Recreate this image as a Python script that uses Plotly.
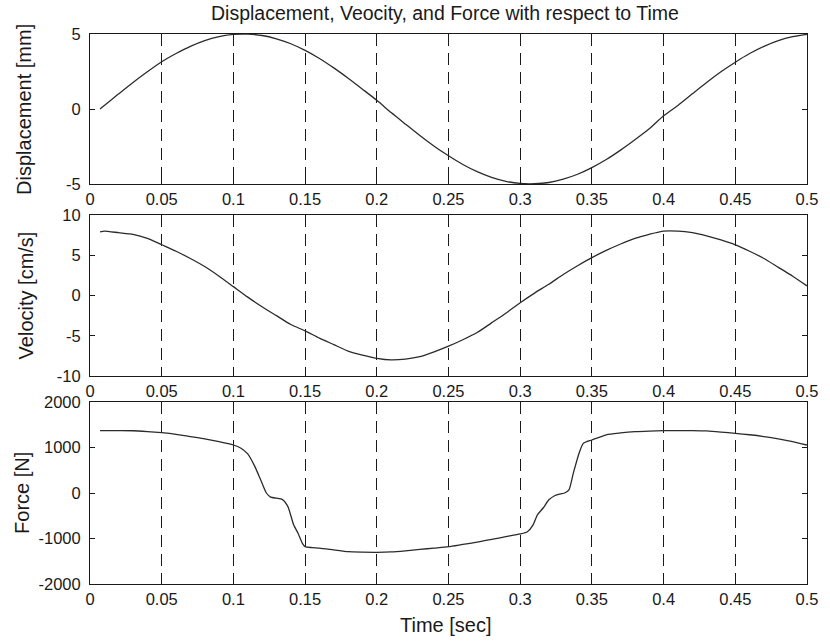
import plotly.graph_objects as go
from plotly.subplots import make_subplots

# Time samples (s) and measured signals
t_disp = [0.007, 0.01, 0.02, 0.03, 0.04, 0.05, 0.06, 0.07, 0.08, 0.09, 0.10,
          0.11, 0.12, 0.13, 0.14, 0.15, 0.16, 0.17, 0.18, 0.19, 0.20,
          0.21, 0.22, 0.23, 0.24, 0.25, 0.26, 0.27, 0.28, 0.29, 0.30,
          0.31, 0.32, 0.33, 0.34, 0.35, 0.36, 0.37, 0.38, 0.39, 0.40,
          0.41, 0.42, 0.43, 0.44, 0.45, 0.46, 0.47, 0.48, 0.49, 0.50]
displacement_mm = [0.0, 0.24, 1.01, 1.77, 2.48, 3.15, 3.70, 4.18, 4.56, 4.82, 4.97,
                   4.99, 4.90, 4.68, 4.35, 3.91, 3.37, 2.74, 2.05, 1.32, 0.58,
                   -0.24, -1.01, -1.77, -2.48, -3.12, -3.70, -4.18, -4.56, -4.82, -4.96,
                   -4.98, -4.90, -4.68, -4.35, -3.91, -3.37, -2.74, -2.05, -1.32, -0.45,
                   0.24, 1.01, 1.77, 2.48, 3.12, 3.70, 4.18, 4.56, 4.82, 4.98]

t_vel = t_disp
velocity_cms = [7.9, 8.0, 7.8, 7.6, 7.1, 6.3, 5.5, 4.6, 3.6, 2.4, 1.1,
                -0.2, -1.4, -2.5, -3.6, -4.4, -5.3, -6.1, -6.9, -7.4, -7.8,
                -8.0, -7.9, -7.6, -7.0, -6.3, -5.5, -4.6, -3.4, -2.2, -0.9,
                0.3, 1.4, 2.6, 3.7, 4.7, 5.6, 6.4, 7.1, 7.6, 8.0,
                8.0, 7.8, 7.4, 6.9, 6.3, 5.5, 4.6, 3.5, 2.4, 1.2]

t_force = [0.007, 0.02, 0.03, 0.04, 0.05, 0.06, 0.07, 0.08, 0.09, 0.10,
           0.105, 0.11, 0.115, 0.119, 0.123, 0.126, 0.13, 0.134, 0.138, 0.142,
           0.145, 0.148, 0.15, 0.155, 0.16, 0.17, 0.18, 0.19, 0.20, 0.21,
           0.22, 0.23, 0.24, 0.25, 0.26, 0.27, 0.28, 0.29, 0.30, 0.305,
           0.309, 0.312, 0.316, 0.32, 0.324, 0.328, 0.331, 0.334, 0.337, 0.341,
           0.344, 0.35, 0.36, 0.37, 0.38, 0.39, 0.40, 0.41, 0.42, 0.43,
           0.44, 0.45, 0.46, 0.47, 0.48, 0.49, 0.50]
force_n = [1370, 1370, 1368, 1350, 1325, 1290, 1240, 1190, 1130, 1055,
           990, 860, 580, 290, 0, -90, -115, -140, -300, -700,
           -880, -1100, -1180, -1200, -1210, -1250, -1290, -1300, -1303, -1295,
           -1270, -1240, -1210, -1180, -1130, -1080, -1020, -960, -900, -850,
           -700, -480, -330, -150, -60, -20, 0, 70, 430, 870,
           1090, 1165, 1280, 1320, 1348, 1362, 1369, 1372, 1372, 1365,
           1340, 1311, 1280, 1240, 1190, 1130, 1055]

time_ticks = [0, 0.05, 0.1, 0.15, 0.2, 0.25, 0.3, 0.35, 0.4, 0.45, 0.5]
time_tick_text = ["0", "0.05", "0.1", "0.15", "0.2", "0.25", "0.3", "0.35", "0.4", "0.45", "0.5"]
disp_ticks = [-5, 0, 5]
vel_ticks = [-10, -5, 0, 5, 10]
force_ticks = [-2000, -1000, 0, 1000, 2000]

title_text = "Displacement, Veocity, and Force with respect to Time"
y_titles = ["Displacement [mm]", "Velocity [cm/s]", "Force [N]"]
x_title = "Time [sec]"

FONT = "Liberation Sans, Arial, sans-serif"
INK = "#1a1a1a"
W, H = 830, 641
L, R, T, B = 90, 13, 34, 57
plot_h = H - T - B

def frac(px_top, px_bottom):
    return [(H - B - px_bottom) / plot_h, (H - B - px_top) / plot_h]

fig = make_subplots(rows=3, cols=1)

series = [(t_disp, displacement_mm), (t_vel, velocity_cms), (t_force, force_n)]
for i, (xs, ys) in enumerate(series, start=1):
    fig.add_trace(go.Scatter(x=xs, y=ys, mode="lines",
                             line=dict(color="#2b2b2b", width=1.3, shape="spline", smoothing=0.6),
                             showlegend=False, hoverinfo="skip"), row=i, col=1)

domains = [frac(34, 184), frac(215, 376), frac(402, 584)]
yranges = [[-5, 5], [-10, 10], [-2000, 2000]]
yticks = [disp_ticks, vel_ticks, force_ticks]

axis_common = dict(showline=True, linecolor=INK, linewidth=1, mirror="ticks",
                   ticks="inside", ticklen=5, tickcolor=INK, tickwidth=1,
                   zeroline=False, tickfont=dict(family=FONT, size=16.5, color=INK))

for i in range(3):
    xa = "xaxis" if i == 0 else f"xaxis{i+1}"
    ya = "yaxis" if i == 0 else f"yaxis{i+1}"
    fig.layout[xa].update(range=[0, 0.5], tickvals=time_ticks, ticktext=time_tick_text,
                          showgrid=True, gridcolor=INK, gridwidth=1, griddash="12px,7px",
                          domain=[0, 1], **axis_common)
    # plain hyphen for negative labels
    fig.layout[ya].update(range=yranges[i], tickvals=yticks[i],
                          ticktext=[str(v) for v in yticks[i]], showgrid=False,
                          domain=domains[i], ticklabelstandoff=5, **axis_common)

annotations = [dict(text=title_text, x=(450 - L) / (W - L - R), y=1 + (T - 13) / plot_h,
                    xref="paper", yref="paper", showarrow=False,
                    font=dict(family=FONT, size=19.5, color=INK), xanchor="center", yanchor="middle")]
label_x = [23, 25, 21]
for i, txt in enumerate(y_titles):
    d = domains[i]
    annotations.append(dict(text=txt, x=(label_x[i] - L) / (W - L - R), y=(d[0] + d[1]) / 2,
                            xref="paper", yref="paper", showarrow=False, textangle=-90,
                            font=dict(family=FONT, size=20, color=INK),
                            xanchor="center", yanchor="middle"))
annotations.append(dict(text=x_title, x=(451 - L) / (W - L - R), y=-(625 - (H - B)) / plot_h,
                        xref="paper", yref="paper", showarrow=False,
                        font=dict(family=FONT, size=20, color=INK),
                        xanchor="center", yanchor="middle"))

fig.update_layout(width=W, height=H, margin=dict(l=L, r=R, t=T, b=B),
                  paper_bgcolor="white", plot_bgcolor="white", annotations=annotations)

fig.write_html("out.html")
